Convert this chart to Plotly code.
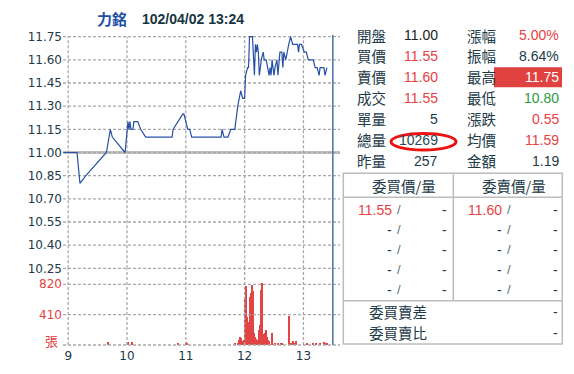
import plotly.graph_objects as go

W, H = 574, 374

# ---------------- data ----------------
stock_name = "力銘"
stamp = "102/04/02 13:24"
ref_price = 11.00

price_times = ["08:55","09:09","09:12","09:18","09:39","09:43","09:45","09:58","10:01","10:02",
               "10:03","10:04","10:06","10:07","10:11","10:14","10:19","10:46","10:47","10:52",
               "10:57","10:58","11:00","11:02","11:04","11:06","11:36","11:37","11:39","11:43",
               "11:46","11:50","11:53","11:56","11:58","12:00","12:01","12:03","12:04","12:05",
               "12:08","12:10","12:11","12:12","12:13","12:14","12:15","12:17","12:19","12:20",
               "12:22","12:25","12:26","12:27","12:28","12:30","12:31","12:33","12:34","12:36",
               "12:38","12:39","12:40","12:42","12:45","12:47","12:49","12:54","12:55","12:56",
               "12:58","13:01","13:03","13:05","13:10","13:12","13:14","13:16","13:17","13:21",
               "13:22","13:24"]
prices = [11.00,11.00,10.80,10.85,11.00,11.15,11.10,11.00,11.20,11.15,
          11.20,11.15,11.15,11.20,11.20,11.15,11.10,11.10,11.15,11.20,
          11.25,11.25,11.20,11.15,11.15,11.10,11.10,11.15,11.10,11.10,
          11.15,11.15,11.30,11.40,11.35,11.35,11.50,11.55,11.55,11.75,
          11.75,11.50,11.70,11.65,11.70,11.65,11.50,11.60,11.65,11.60,
          11.60,11.50,11.55,11.50,11.60,11.50,11.55,11.60,11.50,11.65,
          11.65,11.55,11.65,11.60,11.70,11.75,11.70,11.70,11.65,11.70,
          11.70,11.65,11.65,11.60,11.60,11.55,11.55,11.50,11.55,11.55,
          11.50,11.55]

vol_times = ["09:41","10:01","10:05","10:52","11:00","11:01","11:50","11:53","11:54","11:55",
             "11:56","11:57","11:58","11:59","12:00","12:01","12:02","12:03","12:04","12:05",
             "12:06","12:07","12:08","12:09","12:10","12:11","12:12","12:13","12:14","12:15",
             "12:16","12:17","12:18","12:19","12:20","12:21","12:22","12:23","12:24","12:25",
             "12:28","12:31","12:34","12:37","12:38","12:45","12:47","12:49","12:51","12:53",
             "13:04","13:10","13:13","13:17","13:21","13:22","13:24"]
volumes = [30,40,30,25,30,20,15,20,68,110,
           90,45,45,60,360,608,797,380,300,200,
           650,700,800,720,160,110,80,68,40,200,
           260,740,830,135,150,158,203,110,68,45,
           158,15,15,20,20,391,20,49,15,45,
           25,25,15,15,30,20,20]

hour_ticks = [9, 10, 11, 12, 13]
price_ticks = [10.25, 10.40, 10.55, 10.70, 10.85, 11.00, 11.15, 11.30, 11.45, 11.60, 11.75]
vol_ticks = [0, 410, 820]
vol_tick_text = ["", "410", "820"]
vol_unit = "張"
close_time = "13:30"

left_labels = ["開盤","買價","賣價","成交","單量","總量","昨量"]
left_values = ["11.00","11.55","11.60","11.55","5","10269","257"]
left_colors = ["#222222","#e8413f","#e8413f","#e8413f","#1c3a48","#2a4858","#1c3a48"]
right_labels = ["漲幅","振幅","最高","最低","漲跌","均價","金額"]
right_values = ["5.00%","8.64%","11.75","10.80","0.55","11.59","1.19"]
right_colors = ["#e8413f","#1c3a48","#ffffff","#2e9a3e","#e8413f","#e8413f","#1c3a48"]

book_headers = ["委買價/量", "委賣價/量"]
bid_prices = ["11.55","-","-","-","-"]
bid_qty = ["-","-","-","-","-"]
ask_prices = ["11.60","-","-","-","-"]
ask_qty = ["-","-","-","-","-"]
summary_labels = ["委買賣差", "委買賣比"]
summary_values = ["-", "-"]


def to_hours(s):
    h, m = s.split(":")
    return int(h) + int(m) / 60.0


px_t = [to_hours(t) for t in price_times]
vx_t = [to_hours(t) for t in vol_times]

# ---------------- layout geometry ----------------
def fx(p):
    return p / W


def fy(p):
    return 1 - p / H


DARK = "#1c3a48"
RED = "#e8413f"
GRID = "#a8a8a8"
CJK = "Noto Sans CJK TC"
NUM = "Liberation Sans"
AX = "DejaVu Sans"

x_left, x_right = 63, 340
y_top, y_mid, y_bot = 36.7, 268.3, 345
x_range = [8.9116, 13.622]
p_lo, p_hi = price_ticks[0], price_ticks[-1]
v_hi = 1036.0
PAD = 2.0  # px of room so edge lines are not clipped

h_per_px = (x_range[1] - x_range[0]) / (x_right - x_left)
p_per_px = (p_hi - p_lo) / (y_mid - y_top)
v_per_px = v_hi / (y_bot - y_mid)

y_range = [p_lo - PAD * p_per_px, p_hi + PAD * p_per_px]
y2_range = [-PAD * v_per_px, v_hi]


def dashes(a, b, on, off):
    out = []
    t = a
    while t < b - 1e-9:
        out += [t, min(t + on, b), None]
        t += on + off
    return out


DON, DOFF = 3.0, 2.0

fig = go.Figure()


def add_grid(xs, ys, yaxis):
    fig.add_trace(go.Scatter(x=xs, y=ys, mode="lines", connectgaps=False,
                             line=dict(color=GRID, width=1.3, simplify=False),
                             xaxis="x", yaxis=yaxis, hoverinfo="skip", showlegend=False))


gx, gy = [], []
for v in price_ticks:
    s = dashes(x_range[0], x_range[1], DON * h_per_px, DOFF * h_per_px)
    gx += s
    gy += [v if e is not None else None for e in s]
for hv in hour_ticks:
    s = dashes(p_lo, p_hi, DON * p_per_px, DOFF * p_per_px)
    gy += s
    gx += [hv if e is not None else None for e in s]
add_grid(gx, gy, "y")

gx2, gy2 = [], []
for v in vol_ticks:
    s = dashes(x_range[0], x_range[1], DON * h_per_px, DOFF * h_per_px)
    gx2 += s
    gy2 += [v if e is not None else None for e in s]
for hv in hour_ticks:
    s = dashes(0, v_hi, DON * v_per_px, DOFF * v_per_px)
    gy2 += s
    gx2 += [hv if e is not None else None for e in s]
add_grid(gx2, gy2, "y2")

fig.add_trace(go.Scatter(x=px_t, y=prices, mode="lines",
                         line=dict(color="#2850a8", width=1.2),
                         xaxis="x", yaxis="y", hoverinfo="skip", showlegend=False))
fig.add_trace(go.Bar(x=vx_t, y=volumes, width=[1.25 / 60.0] * len(volumes),
                     marker=dict(color="#e24444", line=dict(width=0)),
                     xaxis="x", yaxis="y2", hoverinfo="skip", showlegend=False))

fig.update_layout(
    width=W, height=H, margin=dict(l=0, r=0, t=0, b=0),
    paper_bgcolor="white", plot_bgcolor="rgba(0,0,0,0)", bargap=0,
    xaxis=dict(domain=[fx(x_left), fx(x_right)], range=x_range,
               tickvals=hour_ticks, ticktext=[str(h) for h in hour_ticks],
               showgrid=False, zeroline=False, showline=False, ticks="", anchor="y2",
               tickfont=dict(family=AX, size=12, color=DARK), automargin=False),
    yaxis=dict(domain=[fy(y_mid + PAD), fy(y_top - PAD)], range=y_range,
               tickvals=price_ticks, ticktext=["%.2f" % v for v in price_ticks],
               showgrid=False, zeroline=False, showline=False, ticks="", anchor="x",
               tickfont=dict(family=AX, size=12, color=DARK), automargin=False),
    yaxis2=dict(domain=[fy(y_bot + PAD), fy(y_mid)], range=y2_range,
                tickvals=vol_ticks, ticktext=vol_tick_text,
                showgrid=False, zeroline=False, showline=False, ticks="", anchor="x",
                tickfont=dict(family=AX, size=12, color=RED), automargin=False),
)

shapes = []
# reference price line
shapes.append(dict(type="line", xref="paper", yref="y", x0=fx(x_left), x1=fx(x_right),
                   y0=ref_price, y1=ref_price, line=dict(color="#c2c2c2", width=3), layer="below"))
# market close marker
shapes.append(dict(type="line", xref="x", yref="paper", x0=to_hours(close_time), x1=to_hours(close_time),
                   y0=fy(y_bot), y1=fy(35), line=dict(color="#4a6fa8", width=1.5)))

ann = []
ann.append(dict(text="<b>%s</b>" % stock_name, x=fx(95), y=fy(19), xref="paper", yref="paper",
                xanchor="left", yanchor="middle", showarrow=False,
                font=dict(family=CJK, size=15, color="#1f50a8")))
ann.append(dict(text="<b>%s</b>" % stamp, x=fx(140), y=fy(19), xref="paper", yref="paper",
                xanchor="left", yanchor="middle", showarrow=False,
                font=dict(family=NUM, size=14, color="#17343f")))
ann.append(dict(text=vol_unit, x=fx(60), y=fy(340), xref="paper", yref="paper",
                xanchor="right", yanchor="middle", showarrow=False,
                font=dict(family=CJK, size=13, color=RED)))

# quote table
row_y0, row_dy = 35, 21
for i in range(len(left_labels)):
    yy = fy(row_y0 + i * row_dy)
    ann.append(dict(text=left_labels[i], x=fx(355), y=yy, xref="paper", yref="paper",
                    xanchor="left", yanchor="middle", showarrow=False,
                    font=dict(family=CJK, size=14.5, color=DARK)))
    ann.append(dict(text=left_values[i], x=fx(440), y=yy, xref="paper", yref="paper",
                    xanchor="right", yanchor="middle", showarrow=False,
                    font=dict(family=NUM, size=14, color=left_colors[i])))
    ann.append(dict(text=right_labels[i], x=fx(465), y=yy, xref="paper", yref="paper",
                    xanchor="left", yanchor="middle", showarrow=False,
                    font=dict(family=CJK, size=14.5, color=DARK)))
    ann.append(dict(text=right_values[i], x=fx(561), y=yy, xref="paper", yref="paper",
                    xanchor="right", yanchor="middle", showarrow=False,
                    font=dict(family=NUM, size=14, color=right_colors[i])))

# highlight box for high price
shapes.append(dict(type="rect", xref="paper", yref="paper", x0=fx(494), x1=fx(562),
                   y0=fy(87.3), y1=fy(67.3), fillcolor="#e04242", line=dict(width=0), layer="below"))
# red ellipse around total volume
shapes.append(dict(type="circle", xref="paper", yref="paper", x0=fx(391), x1=fx(456),
                   y0=fy(150), y1=fy(133.5), line=dict(color="#ee1111", width=3)))

# order book table
BORDER = dict(color="#bdbdbd", width=1.5)
tl, tr, tt, tb = 343.3, 562.3, 173.3, 344
t_head, t_mid, t_sep = 197.3, 453.3, 300.7
shapes.append(dict(type="rect", xref="paper", yref="paper", x0=fx(tl), x1=fx(tr),
                   y0=fy(tb), y1=fy(tt), line=BORDER))
shapes.append(dict(type="line", xref="paper", yref="paper", x0=fx(tl), x1=fx(tr),
                   y0=fy(t_head), y1=fy(t_head), line=BORDER))
shapes.append(dict(type="line", xref="paper", yref="paper", x0=fx(tl), x1=fx(tr),
                   y0=fy(t_sep), y1=fy(t_sep), line=BORDER))
shapes.append(dict(type="line", xref="paper", yref="paper", x0=fx(t_mid), x1=fx(t_mid),
                   y0=fy(t_sep), y1=fy(tt), line=BORDER))

for j, htxt in enumerate(book_headers):
    ann.append(dict(text=htxt, x=fx(403.5 + j * 110), y=fy(185.5), xref="paper", yref="paper",
                    xanchor="center", yanchor="middle", showarrow=False,
                    font=dict(family=CJK, size=14.5, color=DARK)))

book_y0, book_dy = 209.5, 20
for i in range(len(bid_prices)):
    yy = fy(book_y0 + i * book_dy)
    for side, (p_list, q_list) in enumerate([(bid_prices, bid_qty), (ask_prices, ask_qty)]):
        off = side * 110
        pc = RED if p_list[i] != "-" else DARK
        ann.append(dict(text=p_list[i], x=fx(393.5 + off), y=yy, xref="paper", yref="paper",
                        xanchor="right", yanchor="middle", showarrow=False,
                        font=dict(family=NUM, size=14, color=pc)))
        ann.append(dict(text="/", x=fx(394.5 + off), y=yy, xref="paper", yref="paper",
                        xanchor="left", yanchor="middle", showarrow=False,
                        font=dict(family=NUM, size=13, color="#5a6f7a")))
        ann.append(dict(text=q_list[i], x=fx(449.5 + off), y=yy, xref="paper", yref="paper",
                        xanchor="right", yanchor="middle", showarrow=False,
                        font=dict(family=NUM, size=14, color=DARK)))

for i in range(len(summary_labels)):
    yy = fy(311.7 + i * 21)
    ann.append(dict(text=summary_labels[i], x=fx(366.5), y=yy, xref="paper", yref="paper",
                    xanchor="left", yanchor="middle", showarrow=False,
                    font=dict(family=CJK, size=14.5, color=DARK)))
    ann.append(dict(text=summary_values[i], x=fx(559.5), y=yy, xref="paper", yref="paper",
                    xanchor="right", yanchor="middle", showarrow=False,
                    font=dict(family=NUM, size=14, color=DARK)))

fig.update_layout(shapes=shapes, annotations=ann)
fig.write_html("out.html")
